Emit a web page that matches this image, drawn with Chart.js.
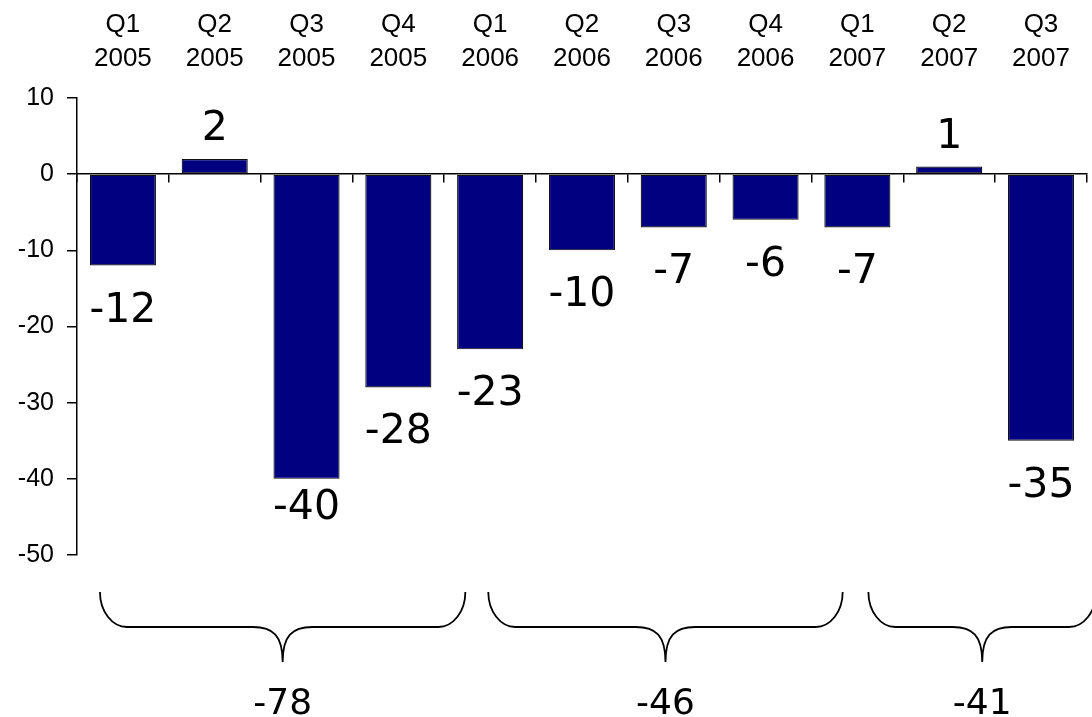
<!DOCTYPE html>
<html>
<head>
<meta charset="utf-8">
<script src="https://cdn.jsdelivr.net/npm/chart.js@4/dist/chart.umd.min.js"></script>
<style>
  html, body { margin: 0; padding: 0; background: #fff; }
  #wrap { width: 1092px; height: 717px; }
</style>
</head>
<body>
<div id="wrap"><canvas id="c" width="1092" height="717"></canvas></div>
<script>
// Quarterly change, one value per quarter
const quarters = ['Q1', 'Q2', 'Q3', 'Q4', 'Q1', 'Q2', 'Q3', 'Q4', 'Q1', 'Q2', 'Q3'];
const years    = ['2005', '2005', '2005', '2005', '2006', '2006', '2006', '2006', '2007', '2007', '2007'];
const changes  = [-12, 2, -40, -28, -23, -10, -7, -6, -7, 1, -35];

// Value axis
const yMin = -50;
const yMax = 10;
const yStep = 10;

// Yearly groups and their totals
const yearGroups = [...new Set(years)];
const yearTotals = yearGroups.map(y =>
  changes.reduce((s, v, i) => s + (years[i] === y ? v : 0), 0));

const categoryLabels = quarters.map((q, i) => [q, years[i]]);

const SANS = "'Liberation Sans', Arial, sans-serif";
const VALUE_FONT = "'DejaVu Sans', Verdana, sans-serif";

// Value labels above/below each bar
const valueLabels = {
  id: 'valueLabels',
  afterDatasetsDraw(chart, args, opts) {
    const { ctx } = chart;
    const meta = chart.getDatasetMeta(0);
    ctx.save();
    ctx.font = `${opts.size}px ${VALUE_FONT}`;
    ctx.fillStyle = '#000';
    ctx.textAlign = 'center';
    ctx.textBaseline = 'alphabetic';
    meta.data.forEach((bar, i) => {
      const v = changes[i];
      const nudge = (opts.nudge && opts.nudge[i]) || 0;
      const y = v < 0 ? bar.y + opts.below + nudge : bar.y - opts.above + nudge;
      ctx.fillText(String(Math.round(v)), bar.x, y);
    });
    ctx.restore();
  }
};

// Curly braces under each year, with the year's total
const yearBraces = {
  id: 'yearBraces',
  afterDraw(chart, args, opts) {
    const { ctx } = chart;
    const xs = chart.scales.x;
    const step = xs.getPixelForValue(1) - xs.getPixelForValue(0);
    const base = xs.getPixelForValue(0) - step / 2;
    const px = f => base + f * step;
    const top = opts.top, mid = opts.mid, tip = opts.tip;
    const r = opts.radius;
    const k = 0.5523;
    ctx.save();
    ctx.strokeStyle = '#000';
    ctx.lineWidth = 1.8;
    ctx.lineJoin = 'round';
    opts.spans.forEach((span, g) => {
      const x1 = px(span[0]);
      const x2 = px(span[1]);
      const cx = (x1 + x2) / 2;
      const h = mid - top;
      ctx.beginPath();
      ctx.moveTo(x1, top);
      ctx.bezierCurveTo(x1, top + h * k, x1 + r * (1 - k), mid, x1 + r, mid);
      ctx.lineTo(cx - r * 1.1, mid);
      ctx.bezierCurveTo(cx - r * 0.35, mid, cx, mid + (tip - mid) * 0.25, cx, tip);
      ctx.moveTo(cx, tip);
      ctx.bezierCurveTo(cx, mid + (tip - mid) * 0.25, cx + r * 0.35, mid, cx + r * 1.1, mid);
      ctx.lineTo(x2 - r, mid);
      ctx.bezierCurveTo(x2 - r * (1 - k), mid, x2, top + h * k, x2, top);
      ctx.stroke();

      ctx.font = `${opts.size}px ${VALUE_FONT}`;
      ctx.fillStyle = '#000';
      ctx.textAlign = 'center';
      ctx.textBaseline = 'alphabetic';
      ctx.fillText(String(yearTotals[g]), cx, opts.labelY);
    });
    ctx.restore();
  }
};

new Chart(document.getElementById('c'), {
  type: 'bar',
  data: {
    labels: categoryLabels,
    datasets: [{
      data: changes,
      xAxisID: 'x',
      yAxisID: 'y',
      backgroundColor: '#000080',
      borderColor: '#111',
      borderWidth: 1.2,
      borderSkipped: false,
      barPercentage: 0.72,
      categoryPercentage: 1
    }]
  },
  options: {
    responsive: false,
    animation: false,
    events: [],
    layout: { padding: { top: 0, right: 2, bottom: 162, left: 0 } },
    plugins: {
      legend: { display: false },
      tooltip: { enabled: false },
      valueLabels: { size: 41, below: 56, above: 19, nudge: { 2: -16 } },
      yearBraces: {
        spans: [[0.25, 4.23], [4.48, 8.34], [8.62, 11.1]],
        top: 592, mid: 627, tip: 662, radius: 27,
        size: 36, labelY: 714
      }
    },
    scales: {
      x: {
        position: 'top',
        offset: true,
        grid: { display: false, drawTicks: false },
        border: { display: false },
        ticks: {
          color: '#000',
          font: { family: SANS, size: 26, lineHeight: 1.3 },
          padding: 22,
          maxRotation: 0,
          autoSkip: false
        },
        afterFit(scale) { scale.height = 98; }
      },
      x2: {
        axis: 'x',
        type: 'category',
        position: { y: 0 },
        offset: true,
        grid: { offset: true, drawOnChartArea: false, drawTicks: true, tickLength: 8, color: '#000', lineWidth: 1.5 },
        border: { display: true, color: '#000', width: 1.5 },
        ticks: { display: false }
      },
      y: {
        min: yMin,
        max: yMax,
        ticks: {
          stepSize: yStep,
          color: '#000',
          font: { family: SANS, size: 25 },
          padding: 13
        },
        grid: { drawOnChartArea: false, drawTicks: true, tickLength: 10, color: '#000', lineWidth: 1.5 },
        border: { display: true, color: '#000', width: 1.5 },
        afterFit(scale) { scale.width = 77; }
      }
    }
  },
  plugins: [valueLabels, yearBraces]
});
</script>
</body>
</html>
